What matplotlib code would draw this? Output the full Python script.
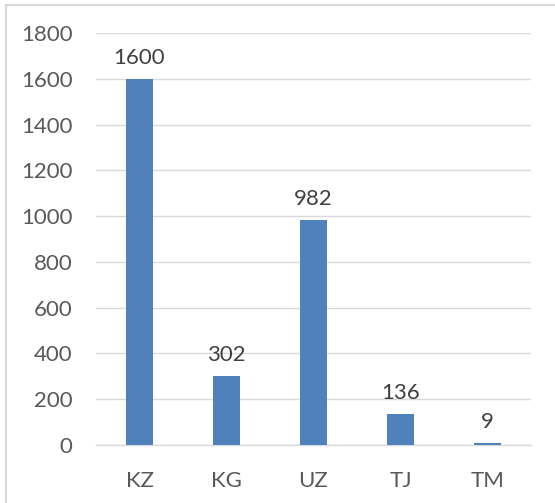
import matplotlib
matplotlib.use("Agg")
import matplotlib.pyplot as plt
from matplotlib.patches import Rectangle

categories = ["KZ", "KG", "UZ", "TJ", "TM"]
values = [1600, 302, 982, 136, 9]
yticks = [0, 200, 400, 600, 800, 1000, 1200, 1400, 1600, 1800]

plt.rcParams['font.family'] = ['Lato', 'DejaVu Sans']
W, H = 555, 503
fig = plt.figure(figsize=(W/100, H/100), dpi=100)
ax = fig.add_axes([96/W, 1-445/H, (531-96)/W, (445-33)/H])

text_c = "#595959"
x = range(len(categories))
bars = ax.bar(x, values, width=0.31, color="#4F81BD", zorder=3)
for xi, v in zip(x, values):
    ax.annotate(str(v), (xi, v), xytext=(0, 8), textcoords="offset points",
                ha="center", va="bottom", fontsize=16, color="#404040")

ax.set_xlim(-0.5, len(categories)-0.5)
ax.set_ylim(0, 1800)
ax.set_yticks(yticks)
ax.set_xticks(list(x))
ax.set_xticklabels(categories)
ax.tick_params(axis='both', length=0, labelsize=16, colors=text_c)
ax.tick_params(axis='y', pad=17)
ax.tick_params(axis='x', pad=19)
ax.grid(axis='y', color="#D9D9D9", linewidth=1.0, zorder=0)
for s in ['top', 'right', 'left']:
    ax.spines[s].set_visible(False)
ax.spines['bottom'].set_color("#D9D9D9")
ax.spines['bottom'].set_linewidth(1.0)

fig.patches.append(Rectangle((6/W, -0.1), 1.2, 1-5/H+0.1, transform=fig.transFigure,
                             fill=False, edgecolor="#D9D9D9", linewidth=1.5))

fig.savefig("out.png", dpi=100)
